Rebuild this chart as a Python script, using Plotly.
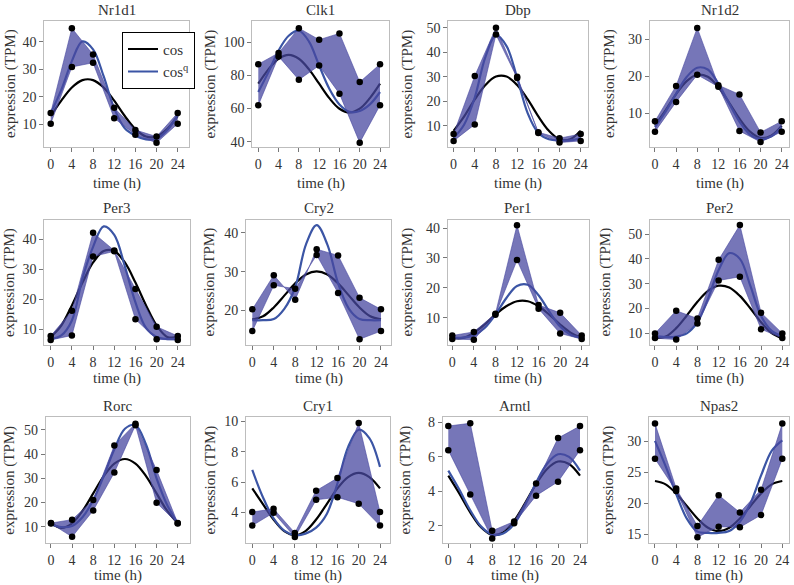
import plotly.graph_objects as go

# ---------------- data ----------------
times = [0, 4, 8, 12, 16, 20, 24]
curve_t = [0, 2, 4, 6, 8, 10, 12, 14, 16, 18, 20, 22, 24]
x_ticks = [0, 4, 8, 12, 16, 20, 24]

nr1d1_rep1 = [14.1, 45.0, 35.4, 16.0, 7.9, 5.5, 14.1]
nr1d1_rep2 = [10.2, 30.9, 32.4, 12.2, 6.2, 3.2, 10.2]
nr1d1_cos = [13.0, 18.6, 23.4, 26.1, 26.1, 23.4, 18.6, 13.0, 8.2, 5.5, 5.5, 8.2, 13.0]
nr1d1_cosq = [14.0, 22.5, 33.0, 40.2, 37.3, 27.5, 15.8, 8.5, 5.8, 4.5, 4.7, 7.8, 13.3]

clk1_rep1 = [86.8, 93.6, 108.6, 101.6, 105.4, 76.0, 86.8]
clk1_rep2 = [62.0, 91.5, 77.4, 86.0, 69.0, 39.4, 62.0]
clk1_cos = [75.0, 83.7, 90.1, 92.4, 90.1, 83.7, 75.0, 66.3, 59.9, 57.6, 59.9, 66.3, 75.0]
clk1_cosq = [70.0, 82.0, 95.0, 104.0, 107.0, 100.5, 86.0, 72.0, 62.5, 58.0, 58.5, 62.5, 70.0]

dbp_rep1 = [6.6, 30.3, 50.0, 30.0, 7.3, 4.9, 6.6]
dbp_rep2 = [3.8, 10.5, 47.2, 29.5, 7.0, 3.1, 3.8]
dbp_cos = [7.9, 13.8, 20.7, 26.6, 30.05, 30.05, 26.6, 20.7, 13.8, 7.9, 4.45, 4.45, 7.9]
dbp_cosq = [5.0, 10.5, 21.5, 38.0, 47.0, 42.5, 29.5, 15.0, 7.0, 4.5, 4.0, 4.0, 5.0]

nr1d2_rep1 = [7.9, 17.4, 33.0, 17.6, 15.1, 4.9, 7.9]
nr1d2_rep2 = [5.1, 13.1, 20.4, 17.2, 5.3, 2.3, 5.1]
nr1d2_cos = [6.7, 10.8, 15.2, 18.7, 20.4, 19.85, 17.1, 13.0, 8.6, 5.1, 3.4, 4.0, 6.7]
nr1d2_cosq = [6.3, 10.5, 15.3, 19.8, 22.3, 21.8, 18.0, 12.8, 7.8, 4.3, 3.1, 3.8, 6.3]

per3_rep1 = [7.8, 16.2, 42.2, 36.3, 23.5, 10.9, 7.8]
per3_rep2 = [6.5, 8.0, 34.3, 36.0, 13.4, 6.7, 6.5]
per3_cos = [7.5, 11.3, 18.0, 25.6, 32.3, 36.1, 36.1, 32.3, 25.6, 18.0, 11.3, 7.5, 7.5]
per3_cosq = [6.8, 8.0, 13.0, 27.0, 37.5, 44.3, 41.5, 31.0, 19.0, 10.5, 7.5, 6.8, 6.8]

cry2_rep1 = [20.3, 29.1, 22.8, 35.8, 34.2, 23.3, 20.3]
cry2_rep2 = [14.7, 26.5, 25.6, 34.3, 24.5, 12.6, 14.7]
cry2_cos = [17.7, 18.5, 20.8, 23.9, 27.0, 29.3, 30.1, 29.3, 27.0, 23.9, 20.8, 18.5, 17.7]
cry2_cosq = [17.5, 17.5, 17.8, 20.5, 26.0, 37.0, 42.0, 37.0, 27.0, 20.5, 17.8, 17.5, 17.5]

per1_rep1 = [4.0, 5.2, 11.3, 41.0, 14.2, 11.6, 4.0]
per1_rep2 = [2.8, 2.6, 11.0, 29.3, 13.0, 4.7, 2.8]
per1_cos = [3.2, 3.2, 4.9, 7.7, 11.0, 13.8, 15.5, 15.5, 13.8, 11.0, 7.7, 4.9, 3.2]
per1_cosq = [3.3, 3.3, 4.0, 6.5, 11.0, 16.5, 20.6, 21.0, 17.5, 12.0, 7.0, 4.2, 3.3]

per2_rep1 = [10.0, 19.1, 16.0, 39.6, 53.6, 18.3, 10.0]
per2_rep2 = [8.1, 7.5, 14.0, 31.3, 32.8, 11.7, 8.1]
per2_cos = [8.0, 8.7, 12.1, 17.2, 22.7, 27.1, 29.2, 28.5, 25.1, 20.0, 14.5, 10.1, 8.0]
per2_cosq = [9.0, 8.5, 8.7, 10.0, 14.5, 24.0, 35.5, 42.3, 40.0, 29.0, 17.0, 11.0, 9.0]

rorc_rep1 = [11.5, 12.9, 21.0, 43.6, 52.6, 33.4, 11.5]
rorc_rep2 = [11.3, 5.8, 16.7, 32.4, 52.0, 19.9, 11.3]
rorc_cos = [11.4, 9.5, 11.4, 16.6, 23.75, 30.9, 36.1, 38.0, 36.1, 30.9, 23.75, 16.6, 11.4]
rorc_cosq = [11.0, 9.8, 10.3, 14.0, 21.0, 31.0, 42.0, 50.5, 52.0, 44.0, 30.0, 19.0, 11.5]

cry1_rep1 = [4.02, 4.24, 2.65, 5.43, 6.26, 9.89, 4.02]
cry1_rep2 = [3.13, 3.98, 2.37, 4.83, 5.0, 4.57, 3.13]
cry1_cos = [5.58, 4.55, 3.53, 2.77, 2.5, 2.77, 3.53, 4.55, 5.58, 6.33, 6.6, 6.33, 5.58]
cry1_cosq = [6.8, 5.0, 3.6, 2.8, 2.5, 2.6, 3.0, 3.9, 5.9, 8.3, 9.45, 8.9, 7.0]

arntl_rep1 = [7.79, 7.95, 1.71, 2.25, 4.45, 7.09, 7.79]
arntl_rep2 = [6.39, 3.82, 1.26, 2.14, 3.75, 4.56, 6.39]
arntl_cos = [4.91, 3.88, 2.78, 1.9, 1.47, 1.61, 2.29, 3.32, 4.42, 5.3, 5.73, 5.59, 4.91]
arntl_cosq = [5.2, 4.1, 2.9, 1.95, 1.5, 1.55, 2.1, 3.2, 4.5, 5.6, 6.15, 6.0, 5.2]

npas2_rep1 = [32.9, 22.4, 16.3, 21.3, 18.5, 22.2, 32.9]
npas2_rep2 = [27.2, 22.0, 14.5, 16.2, 16.1, 18.1, 27.2]
npas2_cos = [23.6, 23.06, 21.58, 19.55, 17.53, 16.04, 15.5, 16.04, 17.53, 19.55, 21.58, 23.06, 23.6]
npas2_cosq = [30.1, 26.0, 21.5, 17.5, 15.4, 15.2, 15.2, 15.5, 17.0, 20.0, 24.5, 28.5, 30.2]

gene_names = ["Nr1d1", "Clk1", "Dbp", "Nr1d2", "Per3", "Cry2", "Per1", "Per2",
              "Rorc", "Cry1", "Arntl", "Npas2"]
y_ticks = [[10, 20, 30, 40], [40, 60, 80, 100], [10, 20, 30, 40, 50], [10, 20, 30],
           [10, 20, 30, 40], [20, 30, 40], [10, 20, 30, 40], [10, 20, 30, 40, 50],
           [10, 20, 30, 40, 50], [4, 6, 8, 10], [2, 4, 6, 8], [15, 20, 25, 30]]

series = [
    (nr1d1_rep1, nr1d1_rep2, nr1d1_cos, nr1d1_cosq),
    (clk1_rep1, clk1_rep2, clk1_cos, clk1_cosq),
    (dbp_rep1, dbp_rep2, dbp_cos, dbp_cosq),
    (nr1d2_rep1, nr1d2_rep2, nr1d2_cos, nr1d2_cosq),
    (per3_rep1, per3_rep2, per3_cos, per3_cosq),
    (cry2_rep1, cry2_rep2, cry2_cos, cry2_cosq),
    (per1_rep1, per1_rep2, per1_cos, per1_cosq),
    (per2_rep1, per2_rep2, per2_cos, per2_cosq),
    (rorc_rep1, rorc_rep2, rorc_cos, rorc_cosq),
    (cry1_rep1, cry1_rep2, cry1_cos, cry1_cosq),
    (arntl_rep1, arntl_rep2, arntl_cos, arntl_cosq),
    (npas2_rep1, npas2_rep2, npas2_cos, npas2_cosq),
]

# ---------------- layout (pixels) ----------------
W, H = 794, 585
boxes = [
    (44.3, 189.3, 18, 145.5), (252.3, 389.3, 18, 145.5), (448.3, 587.7, 18, 145.5), (649.7, 789.3, 18, 145.5),
    (44.3, 190.0, 219, 345), (246.0, 391.0, 219, 345), (447.7, 589.0, 219, 345), (650.0, 789.3, 219, 345),
    (45.7, 190.0, 418, 545), (246.0, 390.0, 418, 545), (442.7, 587.3, 418, 545), (649.0, 789.3, 418, 545),
]
x_ranges = [(-1.21, 26.19), (-1.18, 25.83), (-1.0, 25.32), (-1.0, 25.44),
            (-1.21, 26.3), (-1.18, 25.87), (-0.85, 25.35), (-0.94, 25.32),
            (-1.0, 26.33), (-1.18, 25.88), (-1.02, 25.33), (-1.13, 25.32)]
y_ranges = [(1.6, 47.7), (36.6, 113.0), (1.2, 52.8), (0.9, 34.9),
            (4.8, 46.4), (11.1, 43.3), (0.8, 42.7), (5.3, 55.6),
            (3.1, 55.2), (1.96, 10.26), (0.98, 8.29), (13.5, 33.9)]
title_y = [7.5, 207, 406]
xlabel_y = [181.7, 379, 577.5]
ylabel_x = [[10, 210.5, 407.5, 609], [9.3, 210, 408, 606], [9.3, 210, 405, 608]]

FONT = "Liberation Serif"
TXT = "#333333"
BLUE = "#3b55a5"
BAND = "rgba(72,72,160,0.75)"
FRAME = "#bdbdbd"

fig = go.Figure()
layout = dict(
    width=W, height=H, margin=dict(l=0, r=0, t=0, b=0),
    paper_bgcolor="white", plot_bgcolor="white",
    font=dict(family=FONT, size=14, color=TXT),
    showlegend=True,
    legend=dict(x=122 / W, y=1 - 29 / H, xanchor="left", yanchor="top",
                bordercolor="black", borderwidth=1, bgcolor="white",
                font=dict(family=FONT, size=15, color=TXT),
                itemwidth=30, tracegroupgap=0, traceorder="normal"),
)
annotations = []

for i, name in enumerate(gene_names):
    k = i + 1
    xa = "x" if k == 1 else f"x{k}"
    ya = "y" if k == 1 else f"y{k}"
    r1, r2, c, cq = series[i]
    fig.add_trace(go.Scatter(x=curve_t, y=c, mode="lines", name="cos",
                             line=dict(color="black", width=2.2, shape="spline", smoothing=1.0),
                             xaxis=xa, yaxis=ya, showlegend=(k == 1), hoverinfo="skip"))
    fig.add_trace(go.Scatter(x=curve_t, y=cq, mode="lines", name="cos<sup>q</sup>",
                             line=dict(color=BLUE, width=2.2, shape="spline", smoothing=1.0),
                             xaxis=xa, yaxis=ya, showlegend=(k == 1), hoverinfo="skip"))
    fig.add_trace(go.Scatter(x=times, y=r1, mode="lines", line=dict(color=BAND, width=0.8),
                             xaxis=xa, yaxis=ya, showlegend=False, hoverinfo="skip"))
    fig.add_trace(go.Scatter(x=times, y=r2, mode="lines", line=dict(color=BAND, width=0.8),
                             fill="tonexty", fillcolor=BAND,
                             xaxis=xa, yaxis=ya, showlegend=False, hoverinfo="skip"))
    fig.add_trace(go.Scatter(x=times + times, y=r1 + r2, mode="markers",
                             marker=dict(color="black", size=6.5),
                             xaxis=xa, yaxis=ya, showlegend=False, hoverinfo="skip"))

    left, right, top, bottom = boxes[i]
    axis_common = dict(showline=True, mirror=True, linecolor=FRAME, linewidth=1,
                       ticks="outside", ticklen=4, tickcolor="#777", tickwidth=1,
                       showgrid=False, zeroline=False,
                       tickfont=dict(family=FONT, size=14, color=TXT))
    layout["xaxis" if k == 1 else f"xaxis{k}"] = dict(
        domain=[left / W, right / W], range=list(x_ranges[i]), anchor=ya,
        tickvals=x_ticks, **axis_common)
    layout["yaxis" if k == 1 else f"yaxis{k}"] = dict(
        domain=[1 - bottom / H, 1 - top / H], range=list(y_ranges[i]), anchor=xa,
        tickvals=y_ticks[i], **axis_common)

    row, col = divmod(i, 4)
    cx = (left + right) / 2 / W
    annotations.append(dict(text=name, x=cx, y=1 - title_y[row] / H, xref="paper", yref="paper",
                            showarrow=False, xanchor="center", yanchor="middle",
                            font=dict(family=FONT, size=15, color=TXT)))
    annotations.append(dict(text="time (h)", x=cx, y=1 - xlabel_y[row] / H, xref="paper", yref="paper",
                            showarrow=False, xanchor="center", yanchor="middle",
                            font=dict(family=FONT, size=15, color=TXT)))
    annotations.append(dict(text="expression (TPM)", x=ylabel_x[row][col] / W,
                            y=1 - (top + bottom) / 2 / H, xref="paper", yref="paper",
                            showarrow=False, xanchor="center", yanchor="middle", textangle=-90,
                            font=dict(family=FONT, size=15, color=TXT)))

layout["annotations"] = annotations
fig.update_layout(**layout)
fig.write_html("out.html", config={"displayModeBar": False},
               post_script="document.body.style.margin='0';document.body.style.padding='0';")
